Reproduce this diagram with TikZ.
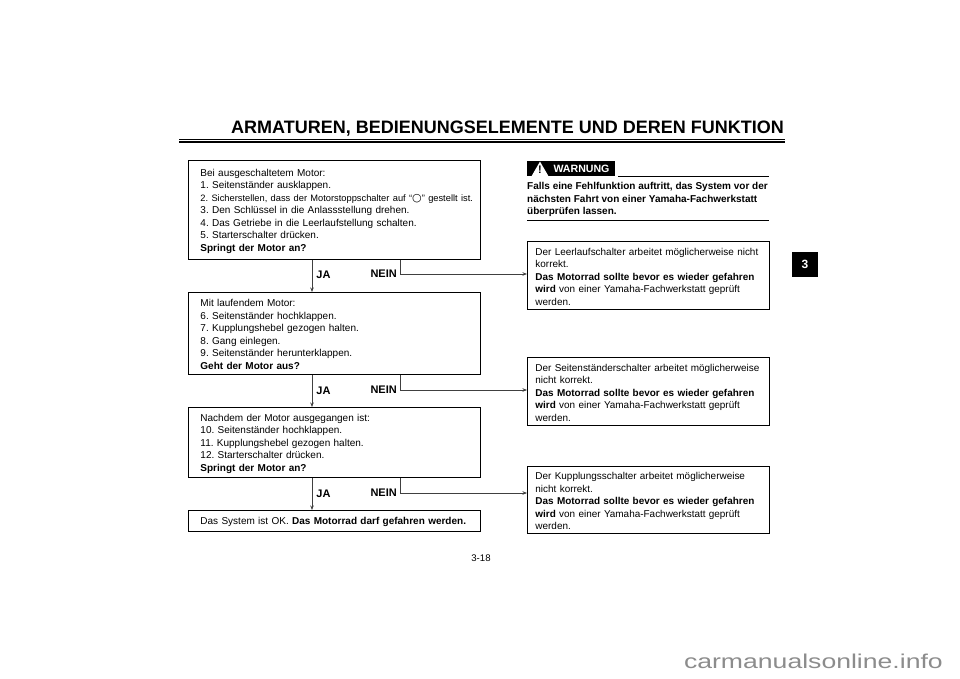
\documentclass[tikz,border=0pt]{standalone}
\usepackage{fontspec}
\setmainfont{Liberation Sans}
\newfontfamily\symbolfont{DejaVu Sans}
\usepackage{xcolor}
\usetikzlibrary{positioning, arrows.meta, shapes.geometric}
\frenchspacing

\begin{document}
\begin{tikzpicture}[
        x=1pt, y=-1pt,
        % --- Sizes follow the page in pixels ---
        every node/.style={font=\fontsize{10}{12.5}\selectfont},
        stepbox/.style={
            draw, line width=0.9pt, anchor=north west,
            minimum width=292pt, text width=268pt,
            inner xsep=12pt, inner ysep=0pt, align=left,
            execute at begin node={\rule{0pt}{9.5pt}\ignorespaces}
        },
        infobox/.style={
            draw, line width=0.9pt, anchor=north west,
            minimum width=242pt, text width=226pt,
            inner xsep=8pt, inner ysep=0pt, align=left,
            font=\fontsize{9.95}{12.5}\selectfont,
            execute at begin node={\rule{0pt}{9.5pt}\ignorespaces}
        },
        answer/.style={font=\fontsize{11}{13}\selectfont\bfseries, inner sep=0pt},
        flow/.style={draw=black!75, line width=0.6pt, -{Stealth[length=4.5pt,width=3.5pt]}},
        branch/.style={draw=black!75, line width=0.6pt}
    ]
    \useasboundingbox (0,0) rectangle (960,678);

    % ==================== 1. PAGE HEAD ====================
    \node[font=\fontsize{18}{21}\selectfont\bfseries, inner sep=0pt] (title) at (507.5,129)
        {ARMATUREN, BEDIENUNGSELEMENTE UND DEREN FUNKTION};
    \coordinate (ruleL) at (179,139.5);
    \coordinate (ruleR) at (785,139.5);
    \draw[line width=0.6pt] (ruleL) -- (ruleR);
    \draw[line width=1.4pt] ([yshift=-2.5pt]ruleL) -- ([yshift=-2.5pt]ruleR);

    \node[fill=black, text=white, font=\fontsize{12}{14}\selectfont\bfseries, minimum height=25pt,
          minimum width=26pt, inner sep=0pt] (chapter) at (805,264.5) {3};

    % ==================== 2. LEFT COLUMN ====================
    \node[stepbox, minimum height=99pt] (start) at (188,160) {
        Bei ausgeschaltetem Motor:\\
        1. Seitenständer ausklappen.\\
        \makebox[268pt][l]{\fontsize{9.3}{12.5}\selectfont 2. Sicherstellen, dass der Motorstoppschalter auf “{\symbolfont\fontsize{11}{12.5}\selectfont ○}” gestellt ist.}\\
        3. Den Schlüssel in die Anlassstellung drehen.\\
        4. Das Getriebe in die Leerlaufstellung schalten.\\
        5. Starterschalter drücken.\\
        \textbf{Springt der Motor an?}};
    \node[stepbox, minimum height=82pt] (running) at (188,292) {
        Mit laufendem Motor:\\
        6. Seitenständer hochklappen.\\
        7. Kupplungshebel gezogen halten.\\
        8. Gang einlegen.\\
        9. Seitenständer herunterklappen.\\
        \textbf{Geht der Motor aus?}};
    \node[stepbox, minimum height=70pt] (stopped) at (188,407) {
        Nachdem der Motor ausgegangen ist:\\
        10. Seitenständer hochklappen.\\
        11. Kupplungshebel gezogen halten.\\
        12. Starterschalter drücken.\\
        \textbf{Springt der Motor an?}};
    \node[stepbox, minimum height=21pt, execute at begin node={}] (okay) at (188,510) {
        Das System ist OK. \textbf{Das Motorrad darf gefahren werden.}};

    % ==================== 3. RIGHT COLUMN ====================
    \node[fill=black, anchor=north west, minimum width=88pt, minimum height=15pt, inner sep=0pt] (warning) at (527,161) {};
    \node[regular polygon, regular polygon sides=3, fill=white, minimum size=20pt, inner sep=0pt] (sign) at (540,171.5) {};
    \node[font=\fontsize{11}{12}\selectfont\bfseries, inner sep=0pt] (mark) at (540,170) {!};
    \node[font=\fontsize{10.6}{13}\selectfont\bfseries, text=white, inner sep=0pt] (warnlabel) at (581.5,169) {WARNUNG};
    \coordinate (warnL) at (618,176);
    \coordinate (warnR) at (769,176);
    \draw[line width=0.8pt] (warnL) -- (warnR);
    \node[font=\fontsize{10}{12.5}\selectfont\bfseries, anchor=north west, inner sep=0pt, align=left] (warntext) at (527,182.5) {
        Falls eine Fehlfunktion auftritt, das System vor der\\
        nächsten Fahrt von einer Yamaha-Fachwerkstatt\\
        überprüfen lassen.};
    \coordinate (endL) at (527,220);
    \coordinate (endR) at (769,220);
    \draw[line width=0.8pt] (endL) -- (endR);

    \node[infobox, minimum height=68pt] (idle) at (527,241) {
        Der Leerlaufschalter arbeitet möglicherweise nicht\\
        korrekt.\\
        \textbf{Das Motorrad sollte bevor es wieder gefahren}\\
        \textbf{wird} von einer Yamaha-Fachwerkstatt geprüft\\
        werden.};
    \node[infobox, minimum height=68pt] (stand) at (527,357) {
        Der Seitenständerschalter arbeitet möglicherweise\\
        nicht korrekt.\\
        \textbf{Das Motorrad sollte bevor es wieder gefahren}\\
        \textbf{wird} von einer Yamaha-Fachwerkstatt geprüft\\
        werden.};
    \node[infobox, minimum height=67pt] (clutch) at (527,466) {
        Der Kupplungsschalter arbeitet möglicherweise\\
        nicht korrekt.\\
        \textbf{Das Motorrad sollte bevor es wieder gefahren}\\
        \textbf{wird} von einer Yamaha-Fachwerkstatt geprüft\\
        werden.};

    % ==================== 4. ANSWERS ====================
    \coordinate (turnA) at (400,274);
    \coordinate (turnB) at (400,390);
    \coordinate (turnC) at (400,493);

    \node[answer] (jaA) at (323.5,274.5) {JA};
    \node[answer] (jaB) at (323.5,390.5) {JA};
    \node[answer] (jaC) at (323.5,493.5) {JA};
    \node[answer, left=3pt of turnA] (neinA) {NEIN};
    \node[answer, left=3pt of turnB] (neinB) {NEIN};
    \node[answer, left=3pt of turnC] (neinC) {NEIN};

    % Downward arrows at x=312
    \path[flow] (start.south -| 312,0) -- (running.north -| 312,0);
    \path[flow] (running.south -| 312,0) -- (stopped.north -| 312,0);
    \path[flow] (stopped.south -| 312,0) -- (okay.north -| 312,0);

    % Branches to the right column
    \path[branch] (start.south -| turnA) -- (turnA);
    \path[flow] (turnA) -- (turnA -| idle.west);
    \path[branch] (running.south -| turnB) -- (turnB);
    \path[flow] (turnB) -- (turnB -| stand.west);
    \path[branch] (stopped.south -| turnC) -- (turnC);
    \path[flow] (turnC) -- (turnC -| clutch.west);

    % ==================== 5. PAGE FOOT ====================
    \node[font=\fontsize{9.6}{11}\selectfont, inner sep=0pt] (pagenum) at (481,558) {3-18};
    \node[font=\fontsize{20}{24}\selectfont, text=black!45, inner sep=0pt, anchor=east] (site) at (943,661.5) {\scalebox{1.33}[1]{carmanualsonline.info}};

\end{tikzpicture}
\end{document}
